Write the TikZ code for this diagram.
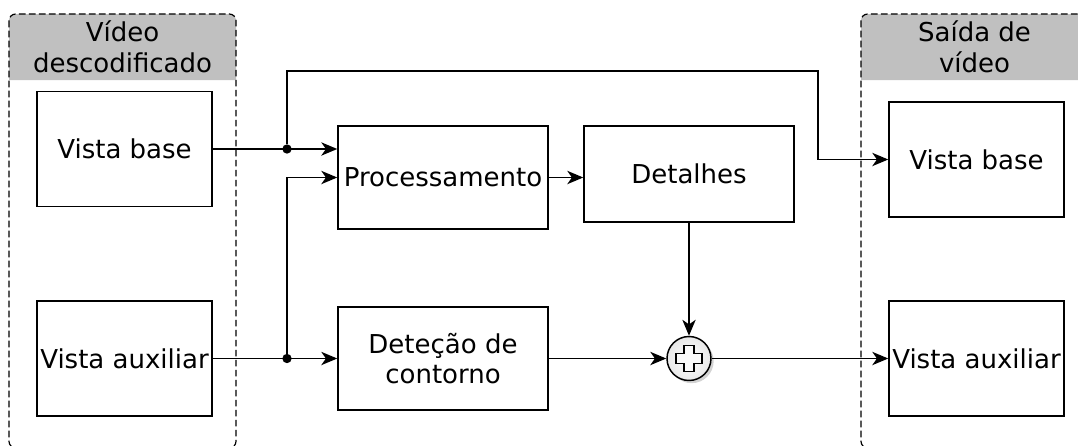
\documentclass[tikz,border=0pt]{standalone}
\usepackage{fontspec}
\setmainfont{DejaVu Sans}
\usetikzlibrary{arrows.meta,positioning,calc,shadows}
\definecolor{hdrgray}{HTML}{C0C0C0}

\begin{document}
\begin{tikzpicture}[
  x=0.75pt, y=-0.75pt,
  font=\fontsize{19.5}{23}\selectfont,
  blockbox/.style={draw, line width=1.1pt, inner sep=0pt, align=center},
  viewbox/.style={blockbox, minimum width=131.25pt, minimum height=86.25pt},
  procbox/.style={blockbox, minimum width=157.5pt, minimum height=77.25pt},
  groupbox/.style={draw, line width=0.9pt, dash pattern=on 5pt off 2.5pt, rounded corners=5pt},
  hdrfill/.style={fill=hdrgray},
  hdrtext/.style={align=center, inner sep=0pt},
  adder/.style={circle, draw, line width=1.1pt, minimum size=33pt, inner sep=0pt,
                inner color=white, outer color=gray!18,
                drop shadow={shadow xshift=2pt, shadow yshift=-2pt, opacity=0.35}},
  jdot/.style={circle, fill, inner sep=0pt, minimum size=7pt},
  arr/.style={-{Stealth[length=12pt,width=10pt,inset=3.5pt]}, line width=1.1pt},
  ln/.style={line width=1.1pt}
]
  \useasboundingbox (0,0) rectangle (1078,446);
  \clip (0,0) rectangle (1078,446);

  % input / output groups
  \fill[hdrfill] (9,80) [rounded corners=5pt] -- (9,14) -- (236,14) [sharp corners] -- (236,80) -- cycle;
  \fill[hdrfill] (861,80) [rounded corners=5pt] -- (861,14) -- (1088,14) [sharp corners] -- (1088,80) -- cycle;
  \draw[groupbox] (9,14) rectangle (236,448);
  \draw[groupbox] (861,14) rectangle (1088,448);
  \node[hdrtext] (inhdr) at (122.5,47) {Vídeo\\descodificado};
  \node[hdrtext] (outhdr) at (974.5,47) {Saída de\\vídeo};

  % blocks
  \node[viewbox] (vbL) at (124.5,149) {Vista base};
  \node[viewbox] (vaL) at (124.5,358.5) {Vista auxiliar};
  \node[procbox] (proc) at (443,177.5) {Processamento};
  \node[procbox, minimum height=72pt] (det) at (689,174) {Detalhes};
  \node[procbox] (dc) at (443,358.5) {Deteção de\\contorno};
  \node[viewbox] (vbR) at (976.5,159.5) {Vista base};
  \node[viewbox] (vaR) at (976.5,358.5) {Vista auxiliar};
  \node[adder] (sum) at (689,358.5) {};
  \draw[line width=1.1pt, fill=white!96!gray, shift={(sum.center)}]
    (-5,-13) -- (5,-13) -- (5,-5) -- (13,-5) -- (13,5) -- (5,5) --
    (5,13) -- (-5,13) -- (-5,5) -- (-13,5) -- (-13,-5) -- (-5,-5) -- cycle;

  % junctions
  \node[jdot] (j1) at (287,149) {};
  \node[jdot] (j2) at (287,358.5) {};
  \coordinate (bend) at (818,71);

  % connections
  \draw[arr] (vbL.east) -- (vbL.east -| proc.west);
  \draw[arr] (j1) |- (bend) |- (vbR.west);
  \draw[arr] (vaL.east) -- (dc.west);
  \draw[arr] (j2) |- (proc.west);
  \draw[arr] (proc.east) -- (proc.east -| det.west);
  \draw[arr] (det.south) -- (sum.north);
  \draw[arr] (dc.east) -- (sum.west);
  \draw[arr] (sum.east) -- (vaR.west);
\end{tikzpicture}
\end{document}
